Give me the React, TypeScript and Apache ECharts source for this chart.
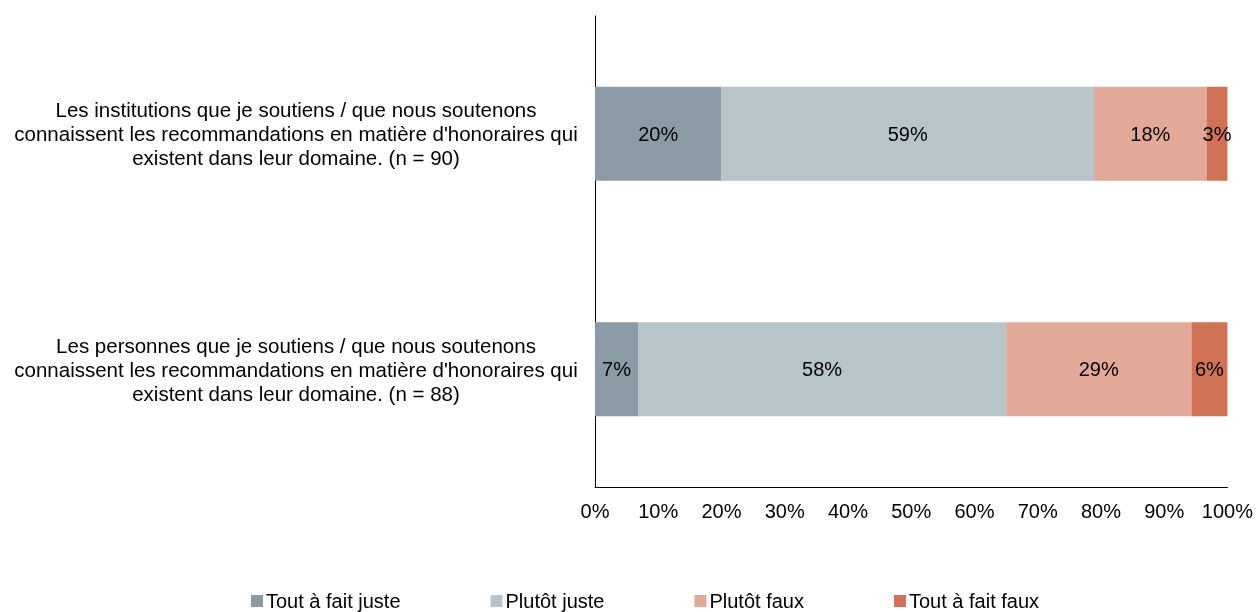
import React, { useEffect, useRef } from "react";
import * as echarts from "echarts";

const categories = [
  "Les institutions que je soutiens / que nous soutenons\nconnaissent les recommandations en matière d'honoraires qui\nexistent dans leur domaine. (n = 90)",
  "Les personnes que je soutiens / que nous soutenons\nconnaissent les recommandations en matière d'honoraires qui\nexistent dans leur domaine. (n = 88)",
];
const seriesNames = ["Tout à fait juste", "Plutôt juste", "Plutôt faux", "Tout à fait faux"];
const toutJuste = [20.0, 6.8];
const plutotJuste = [58.9, 58.2];
const plutotFaux = [17.8, 29.3];
const toutFaux = [3.3, 5.7];
const colors = ["#8A9BA6", "#B7C4CA", "#E3A998", "#D07255"];
const xTicks = [0, 10, 20, 30, 40, 50, 60, 70, 80, 90, 100];

const FONT = "'Liberation Sans', Arial, sans-serif";

export default function App() {
  const ref = useRef<HTMLDivElement>(null);
  useEffect(() => {
    if (!ref.current) return;
    const chart = echarts.init(ref.current, null, { renderer: "svg" });
    const values = [toutJuste, plutotJuste, plutotFaux, toutFaux];
    chart.setOption({
      animation: false,
      textStyle: { fontFamily: FONT },
      grid: { left: 595, right: 24, top: 16, bottom: 125, containLabel: false },
      legend: {
        left: 251,
        top: 591,
        padding: 0,
        itemWidth: 12,
        itemHeight: 12,
        itemGap: 90,
        icon: "rect",
        textStyle: { fontSize: 20, color: "#000", fontFamily: FONT, padding: [0, 0, 0, -2] },
        data: seriesNames,
      },
      xAxis: {
        type: "value",
        min: xTicks[0],
        max: xTicks[xTicks.length - 1],
        interval: 10,
        axisLine: { show: true, lineStyle: { color: "#000", width: 1 } },
        axisTick: { show: false },
        splitLine: { show: false },
        axisLabel: {
          formatter: (v: number) => v + "%",
          fontSize: 20,
          color: "#000",
          margin: 14,
          fontFamily: FONT,
        },
      },
      yAxis: {
        type: "category",
        inverse: true,
        data: categories,
        axisLine: { show: true, lineStyle: { color: "#000", width: 1 } },
        axisTick: { show: false },
        axisLabel: {
          align: "center",
          margin: 299,
          fontSize: 20.5,
          lineHeight: 24,
          color: "#000",
          fontFamily: FONT,
        },
      },
      series: seriesNames.map((name, i) => ({
        name,
        type: "bar",
        stack: "total",
        barWidth: 94,
        itemStyle: { color: colors[i] },
        label: {
          show: true,
          position: "inside",
          color: "#000",
          fontSize: 20,
          fontFamily: FONT,
          formatter: (p: any) => Math.round(p.value) + "%",
        },
        data: values[i],
      })),
    });
    return () => chart.dispose();
  }, []);
  return (
    <div
      ref={ref}
      style={{ position: "fixed", left: 0, top: 0, width: 1256, height: 612, overflow: "hidden" }}
    />
  );
}
